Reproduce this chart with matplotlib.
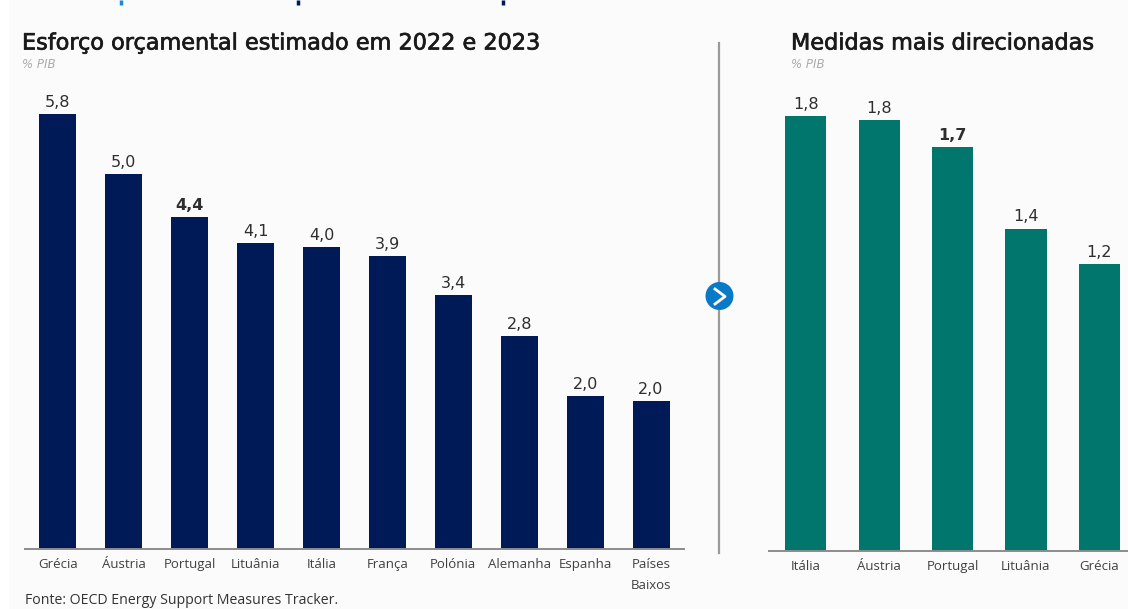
import matplotlib
matplotlib.use('Agg')
import matplotlib.pyplot as plt
import matplotlib.patheffects as pe
from matplotlib.patches import Circle, Rectangle

W, H = 1128, 609

# dados
paises_esq = ['Grécia', 'Áustria', 'Portugal', 'Lituânia', 'Itália', 'França',
              'Polónia', 'Alemanha', 'Espanha', 'Países\nBaixos']
valores_esq = [5.81, 5.01, 4.43, 4.08, 4.03, 3.91, 3.39, 2.84, 2.04, 1.97]
paises_dir = ['Itália', 'Áustria', 'Portugal', 'Lituânia', 'Grécia']
valores_dir = [1.849, 1.83, 1.715, 1.37, 1.22]

titulo_esq = 'Esforço orçamental estimado em 2022 e 2023'
titulo_dir = 'Medidas mais direcionadas'
unidade = '% PIB'
fonte = 'Fonte: OECD Energy Support Measures Tracker.'

AZUL = '#001A57'
VERDE = '#00766C'
GRIS = '#8C8C8C'


def eixo(x0, y0, x1, y1):
    """cria eixo a partir de pixeis da imagem"""
    return fig.add_axes([x0 / W, 1 - y1 / H, (x1 - x0) / W, (y1 - y0) / H])


def barras(ax, nomes, valores, cor, destaque, xmax, ymax):
    pos = range(len(nomes))
    bars = ax.bar(pos, valores, width=0.56, color=cor)
    for i, (b, v) in enumerate(zip(bars, valores)):
        peso = 'bold' if i == destaque else 'normal'
        ax.annotate(f'{v:.1f}'.replace('.', ','), (b.get_x() + b.get_width() / 2, v),
                    xytext=(0, 3), textcoords='offset points', ha='center', va='bottom',
                    fontsize=11.5, color='#2E2E2E', fontweight=peso, family='DejaVu Sans')
    ax.set_xlim(-0.5, xmax)
    ax.set_ylim(0, ymax)
    ax.set_xticks(list(pos))
    ax.set_xticklabels(nomes, fontsize=9.5, color='#404040', linespacing=1.75, family='Open Sans')
    ax.set_yticks([])
    ax.tick_params(axis='x', length=0, pad=7)
    for s in ['top', 'left', 'right']:
        ax.spines[s].set_visible(False)
    ax.spines['bottom'].set_color(GRIS)
    ax.spines['bottom'].set_linewidth(1.4)
    ax.patch.set_alpha(0)


fig = plt.figure(figsize=(W / 100, H / 100), dpi=100, facecolor='white')

# fundo ligeiramente cinzento
fig.patches.append(Rectangle((9 / W, 0), 1 - 9 / W, 1, transform=fig.transFigure,
                             fc='#FBFBFB', ec='none', zorder=-5))

ax1 = eixo(25, 60, 684, 548.5)
barras(ax1, paises_esq, valores_esq, AZUL, 2, 9.5, 488.5 / 74.8)

ax2 = eixo(769, 60, 1128, 550.5)
barras(ax2, paises_dir, valores_dir, VERDE, 2, 4.39, 490.5 / 235)

# titulos, um pouco mais cheios que o normal
for x, t in [(22, titulo_esq), (791, titulo_dir)]:
    fig.text(x / W, 1 - 43.5 / H, t, fontsize=16.1, color='#1A1A1A', va='center',
             family='DejaVu Sans', path_effects=[pe.withStroke(linewidth=0.5, foreground='#1A1A1A')])
    fig.text(x / W, 1 - 64.5 / H, unidade, fontsize=8.5, color='#ABABAB', va='center', style='italic')
fig.text(25 / W, 1 - 600 / H, fonte, fontsize=10.2, color='#333333', va='center', family='Open Sans')

# camada em pixeis: divisoria, seta e restos do titulo cortado
ov = fig.add_axes([0, 0, 1, 1])
ov.set_xlim(0, W)
ov.set_ylim(H, 0)
ov.axis('off')
ov.patch.set_alpha(0)
ov.plot([719, 719], [43, 553], color='#9A9A9A', lw=1.6)
ov.add_patch(Circle((719.5, 296), 14, fc='#0A7AC6', ec='none', zorder=3))
ov.plot([715, 725, 715], [289, 296.5, 304], color='white', lw=2, zorder=4)
ov.plot([120.5, 120.5], [0, 5], color='#1E88D8', lw=2.5, solid_capstyle='butt')
ov.plot([298, 298], [0, 5], color=AZUL, lw=2.5, solid_capstyle='butt')
ov.plot([503, 503], [0, 5], color=AZUL, lw=2.5, solid_capstyle='butt')

plt.savefig('out.png', dpi=100)
